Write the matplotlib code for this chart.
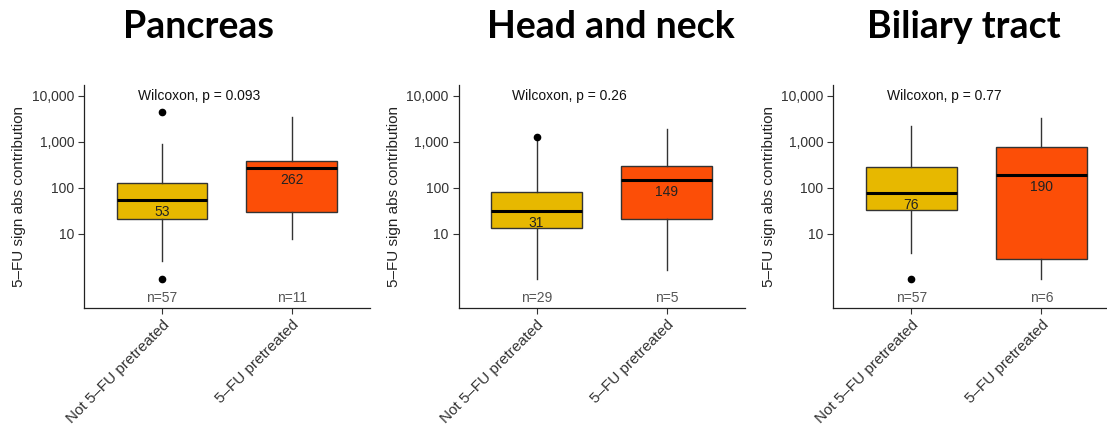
import matplotlib
matplotlib.use("Agg")
import matplotlib.pyplot as plt
from matplotlib.ticker import FixedLocator, NullLocator

plt.rcParams['font.family'] = ['Liberation Sans', 'DejaVu Sans']

# cohort panels
titles = ["Pancreas", "Head and neck", "Biliary tract"]
groups = ["Not 5\u2013FU pretreated", "5\u2013FU pretreated"]
p_values = ["0.093", "0.26", "0.77"]
n_counts = [[57, 11], [29, 5], [57, 6]]

# box statistics per panel: [not pretreated, pretreated]
medians = [[53, 262], [31, 149], [76, 190]]
q1 = [[20.6, 30], [13.1, 20.6], [32.7, 2.77]]
q3 = [[128, 386], [81, 297], [286, 755]]
whislo = [[2.6, 7.5], [1.02, 1.63], [3.75, 1.02]]
whishi = [[877, 3390], [1200, 1890], [2230, 3330]]
fliers = [[[1.02, 4490], []], [[1285], []], [[1.02], []]]

colors = ["#E7B800", "#FC4E07"]

W, H = 1107, 426
fig = plt.figure(figsize=(W / 100, H / 100), dpi=100)

axes_left = [84, 458.5, 833.3]
axes_w = 286
ax_bottom, ax_top = 308, 85
title_x = [199, 611, 964]

for k in range(3):
    ax = fig.add_axes([axes_left[k] / W, 1 - ax_bottom / H,
                       axes_w / W, (ax_bottom - ax_top) / H])
    stats = []
    for g in range(2):
        stats.append(dict(med=medians[k][g], q1=q1[k][g], q3=q3[k][g],
                          whislo=whislo[k][g], whishi=whishi[k][g],
                          fliers=fliers[k][g]))
    bp = ax.bxp(stats, positions=[1, 2], widths=0.7, patch_artist=True,
                showcaps=False,
                boxprops=dict(edgecolor="#333333", linewidth=1.0),
                whiskerprops=dict(color="#333333", linewidth=1.0),
                medianprops=dict(color="black", linewidth=2.2),
                flierprops=dict(marker="o", markerfacecolor="black",
                                markeredgecolor="black", markersize=4.5))
    for patch, c in zip(bp["boxes"], colors):
        patch.set_facecolor(c)

    ax.set_yscale("log")
    ax.set_ylim(10 ** -0.615, 10 ** 4.233)
    ax.set_xlim(0.4, 2.6)
    ax.yaxis.set_major_locator(FixedLocator([10, 100, 1000, 10000]))
    ax.yaxis.set_minor_locator(NullLocator())
    ax.set_yticklabels(["10", "100", "1,000", "10,000"])
    ax.set_xticks([1, 2])
    ax.set_xticklabels(groups, rotation=45, ha="right", va="top",
                       rotation_mode="anchor")
    ax.tick_params(axis="both", length=4, width=0.8, color="#333333",
                   labelsize=10, labelcolor="#333333", pad=3)
    ax.tick_params(axis="x", labelsize=11)
    for s in ["top", "right"]:
        ax.spines[s].set_visible(False)
    for s in ["left", "bottom"]:
        ax.spines[s].set_linewidth(0.9)
        ax.spines[s].set_color("#222222")
    ax.set_ylabel("5\u2013FU sign abs contribution", fontsize=11,
                  color="#222222", labelpad=4)

    # median values under the median line
    for g in range(2):
        ax.annotate(str(medians[k][g]), (g + 1, medians[k][g]),
                    xytext=(0, -3.5), textcoords="offset points",
                    ha="center", va="top", fontsize=10, color="#222222")
        ax.text(g + 1, 10 ** -0.4, "n=%d" % n_counts[k][g], ha="center",
                va="center", fontsize=10, color="#555555")

    ax.text(0.815, 10000, "Wilcoxon, p = " + p_values[k], ha="left",
            va="center", fontsize=10, color="#111111")

    fig.text(title_x[k] / W, 1 - 27 / H, titles[k], ha="center",
             va="center", fontsize=27, fontweight="bold",
             family=["Lato", "DejaVu Sans"])

fig.savefig("out.png", dpi=100)
